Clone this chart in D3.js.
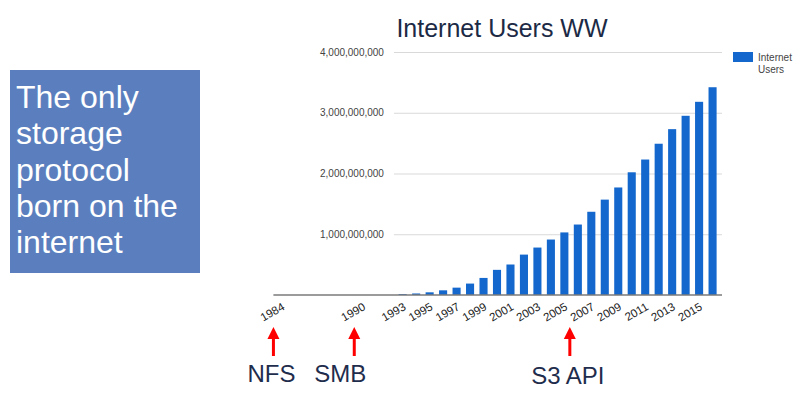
<!DOCTYPE html>
<html>
<head>
<meta charset="utf-8">
<script src="https://cdn.jsdelivr.net/npm/d3@7"></script>
<style>
  body { margin: 0; background: #fff; }
  svg { display: block; font-family: "Liberation Sans", Arial, sans-serif; }
</style>
</head>
<body>
<svg id="chart" width="809" height="395"></svg>
<script>
// years on the axis (1984-2016), users per year
const years = d3.range(1984, 2017);
const users = [
  0, 0, 0, 0, 0, 0, 0, 0, 0,
  14000000, 25000000, 44000000, 77000000, 121000000, 188000000, 281000000,
  414000000, 502000000, 665000000, 781000000, 913000000, 1030000000,
  1160000000, 1370000000, 1570000000, 1770000000, 2020000000, 2230000000,
  2490000000, 2730000000, 2950000000, 3180000000, 3420000000
];
const tickYears = [1984, 1990, 1993, 1995, 1997, 1999, 2001, 2003, 2005, 2007, 2009, 2011, 2013, 2015];
const yTicks = [0, 1000000000, 2000000000, 3000000000, 4000000000];
const boxLines = ["The only", "storage", "protocol", "born on the", "internet"];
const notes = [
  { label: "NFS", year: 1984 },
  { label: "SMB", year: 1990 },
  { label: "S3 API", year: 2006 }
];

whenReady(() => {
  const svg = d3.select('#chart');

  const x = d3.scaleBand().domain(years).range([272, 722]).padding(0.4);
  const y = d3.scaleLinear().domain([0, 4000000000]).range([295, 52]);
  const cx = yr => x(yr) + x.bandwidth() / 2;

  // left box
  svg.append('rect')
    .attr('x', 10).attr('y', 70)
    .attr('width', 190).attr('height', 203)
    .style('fill', '#5b7fbe');
  svg.append('g').selectAll('text')
    .data(boxLines)
    .enter().append('text')
    .attr('x', 16)
    .attr('y', (d, i) => 108 + i * 36.3)
    .style('font-size', '32px')
    .style('fill', '#fff')
    .text(d => d);

  // title
  svg.append('text')
    .attr('x', 502).attr('y', 37)
    .attr('text-anchor', 'middle')
    .style('font-size', '25px')
    .style('fill', '#1c2a45')
    .text('Internet Users WW');

  // gridlines + y labels
  const gridStart = x(1993) - x.step() * 0.35;
  const yAxis = d3.axisLeft(y)
    .tickValues(yTicks.slice(1))
    .tickSize(-(722 - gridStart))
    .tickFormat(d3.format(','));
  svg.append('g')
    .attr('transform', `translate(${gridStart},0)`)
    .call(yAxis)
    .call(g => g.select('.domain').remove())
    .call(g => g.selectAll('line').style('stroke', '#d9d9d9'))
    .call(g => g.selectAll('text')
      .attr('x', -10)
      .style('font-size', '10px')
      .style('font-family', '"Liberation Sans", Arial, sans-serif')
      .style('fill', '#444'));

  // bars
  svg.append('g').selectAll('rect')
    .data(years.map((yr, i) => ({ yr, v: users[i] })).filter(d => d.v > 0))
    .enter().append('rect')
    .attr('x', d => x(d.yr))
    .attr('y', d => y(d.v))
    .attr('width', x.bandwidth())
    .attr('height', d => y(0) - y(d.v))
    .style('fill', '#1467cc');

  // baseline
  svg.append('line')
    .attr('x1', x(1984) - 4).attr('x2', 722)
    .attr('y1', y(0)).attr('y2', y(0))
    .style('stroke', '#7a7a7a')
    .style('stroke-width', 1.5);

  // x labels (rotated)
  svg.append('g').selectAll('text')
    .data(tickYears)
    .enter().append('text')
    .attr('transform', d => `translate(${cx(d) + 4},309) rotate(-30)`)
    .attr('text-anchor', 'end')
    .style('font-size', '11.5px')
    .style('fill', '#222')
    .text(d => d);

  // legend
  svg.append('rect')
    .attr('x', 733).attr('y', 52)
    .attr('width', 20).attr('height', 10)
    .style('fill', '#1467cc');
  svg.append('text')
    .attr('x', 758).attr('y', 61)
    .style('font-size', '10px').style('fill', '#444')
    .selectAll('tspan')
    .data(['Internet', 'Users'])
    .enter().append('tspan')
    .attr('x', 758)
    .attr('dy', (d, i) => i ? 12 : 0)
    .text(d => d);

  // arrows + protocol names
  const arrowShift = -8;
  const labelShift = { NFS: -2, SMB: -14, 'S3 API': -2 };
  const ann = svg.append('g').selectAll('g')
    .data(notes)
    .enter().append('g')
    .attr('transform', d => `translate(${cx(d.year) + arrowShift},0)`);
  ann.append('line')
    .attr('x1', 0).attr('x2', 0)
    .attr('y1', 336).attr('y2', 356)
    .style('stroke', '#f00')
    .style('stroke-width', 3);
  ann.append('path')
    .attr('d', 'M0,327 L6,339 L-6,339 Z')
    .style('fill', '#f00');
  ann.append('text')
    .attr('x', d => labelShift[d.label])
    .attr('y', d => d.label === 'S3 API' ? 384 : 382)
    .attr('text-anchor', 'middle')
    .style('font-size', '24px')
    .style('fill', '#1f2d4d')
    .text(d => d.label);
});

function whenReady(action) {
  if (document.readyState === "loading") {
    document.addEventListener("DOMContentLoaded", action);
  } else {
    action();
  }
}
</script>
</body>
</html>
